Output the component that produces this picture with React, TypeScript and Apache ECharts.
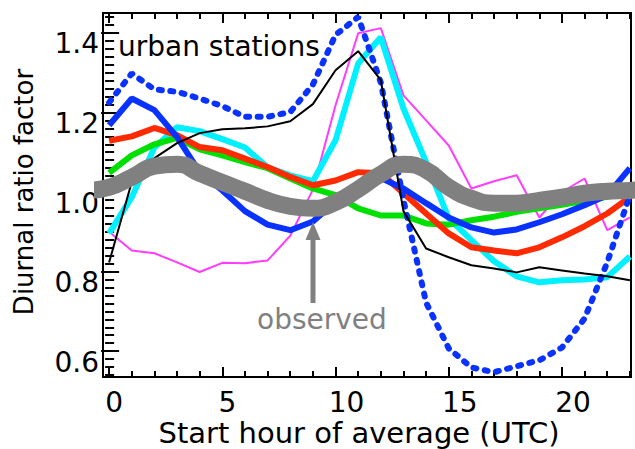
import React, { useEffect, useRef } from "react";
import * as echarts from "echarts";

// ---------- data (hours 0..23) ----------
const hours = [0, 1, 2, 3, 4, 5, 6, 7, 8, 9, 10, 11, 12, 13, 14, 15, 16, 17, 18, 19, 20, 21, 22, 23];

const blueDashed = [1.225, 1.298, 1.258, 1.252, 1.235, 1.216, 1.189, 1.189, 1.201, 1.27, 1.395, 1.44, 1.275, 0.98, 0.722, 0.607, 0.559, 0.547, 0.562, 0.577, 0.609, 0.682, 0.823, 0.992];
const blueSolid = [1.168, 1.235, 1.206, 1.138, 1.05, 1.004, 0.952, 0.918, 0.904, 0.926, 0.975, 1.012, 1.035, 1.009, 0.972, 0.936, 0.911, 0.898, 0.906, 0.924, 0.944, 0.967, 0.992, 1.06];
const redSeries = [1.129, 1.14, 1.161, 1.143, 1.113, 1.105, 1.084, 1.063, 1.038, 1.017, 1.029, 1.05, 1.047, 0.997, 0.946, 0.896, 0.861, 0.853, 0.846, 0.861, 0.886, 0.914, 0.946, 0.987];
const greenSeries = [1.048, 1.092, 1.12, 1.136, 1.107, 1.092, 1.075, 1.06, 1.034, 1.009, 0.992, 0.959, 0.941, 0.941, 0.921, 0.918, 0.929, 0.938, 0.95, 0.959, 0.968, 0.978, 0.988, 1.0];
const cyanSeries = [0.896, 0.987, 1.112, 1.163, 1.153, 1.133, 1.112, 1.062, 1.042, 1.027, 1.13, 1.323, 1.389, 1.21, 1.075, 0.934, 0.879, 0.826, 0.788, 0.773, 0.778, 0.78, 0.786, 0.838];
const magentaSeries = [0.9, 0.853, 0.846, 0.823, 0.799, 0.822, 0.821, 0.828, 0.89, 1.006, 1.218, 1.399, 1.412, 1.243, 1.18, 1.117, 1.009, 1.027, 1.042, 0.936, 1.0, 1.034, 0.904, 0.936];
const blackSeries = [0.823, 1.025, 1.085, 1.123, 1.148, 1.158, 1.16, 1.165, 1.178, 1.221, 1.306, 1.354, 1.281, 0.952, 0.858, 0.836, 0.816, 0.808, 0.798, 0.811, 0.803, 0.795, 0.788, 0.778];

// observed (diurnal, wrapped one hour on each side)
const observedHours = [-1, 0, 1, 2, 3, 4, 5, 6, 7, 8, 9, 10, 11, 12, 13, 14, 15, 16, 17, 18, 19, 20, 21, 22, 23, 24];
const observedSeries = [1.004, 1.012, 1.037, 1.065, 1.07, 1.047, 1.024, 1.002, 0.979, 0.964, 0.959, 0.974, 1.007, 1.045, 1.07, 1.055, 1.012, 0.984, 0.972, 0.972, 0.979, 0.987, 0.997, 1.002, 1.004, 1.012];

const xMajorTicks = [0, 5, 10, 15, 20];
const xMinorTicks = hours;
const yMajorTicks = [0.6, 0.8, 1.0, 1.2, 1.4];
const yMinorTicks = Array.from({ length: 46 }, (_, i) => +(0.54 + i * 0.02).toFixed(2));

const XMIN = -0.27;
const XMAX = 23.05;
const YMIN = 0.535;
const YMAX = 1.45;

const FONT = '"DejaVu Sans", "Liberation Sans", sans-serif';

const pairs = (xs: number[], ys: number[]) => xs.map((x, i) => [x, ys[i]]);

export default function App() {
  const ref = useRef<HTMLDivElement>(null);

  useEffect(() => {
    if (!ref.current) return;
    const chart = echarts.init(ref.current, null, { renderer: "svg" });

    const tickLine = { color: "#000", width: 2 };
    const xBase = {
      type: "value",
      min: XMIN,
      max: XMAX,
      axisLine: { show: false },
      splitLine: { show: false },
      minorTick: { show: false },
    };
    const yBase = {
      type: "value",
      min: YMIN,
      max: YMAX,
      axisLine: { show: false },
      splitLine: { show: false },
      minorTick: { show: false },
    };

    const xLabel = {
      show: true,
      customValues: xMajorTicks,
      margin: 14,
      formatter: (v: number) => (v < 10 ? `{a|${v}}` : `{b|${v}}`),
      rich: {
        a: { fontSize: 28, fontFamily: FONT, color: "#000", lineHeight: 22, padding: [0, 0, 0, 10] },
        b: { fontSize: 28, fontFamily: FONT, color: "#000", lineHeight: 22, padding: [0, 0, 0, 22] },
      },
    };

    const line = (name: string, xs: number[], ys: number[], color: string, width: number, extra: any = {}) => ({
      name,
      type: "line",
      data: pairs(xs, ys),
      symbol: "none",
      clip: true,
      lineStyle: { color, width, ...extra },
      xAxisIndex: 0,
      yAxisIndex: 0,
    });

    chart.setOption({
      animation: false,
      backgroundColor: "#fff",
      grid: {
        left: 103,
        right: 4,
        top: 13,
        bottom: 72,
        show: true,
        borderColor: "#000",
        borderWidth: 2,
        backgroundColor: "transparent",
      },
      xAxis: [
        {
          ...xBase,
          position: "bottom",
          axisTick: { show: true, inside: true, length: 10, customValues: xMajorTicks, lineStyle: tickLine },
          axisLabel: xLabel,
        },
        {
          ...xBase,
          position: "bottom",
          axisTick: { show: true, inside: true, length: 6, customValues: xMinorTicks, lineStyle: tickLine },
          axisLabel: { show: false },
        },
        {
          ...xBase,
          position: "top",
          axisTick: { show: true, inside: true, length: 10, customValues: xMajorTicks, lineStyle: tickLine },
          axisLabel: { show: false },
        },
        {
          ...xBase,
          position: "top",
          axisTick: { show: true, inside: true, length: 6, customValues: xMinorTicks, lineStyle: tickLine },
          axisLabel: { show: false },
        },
      ],
      yAxis: [
        {
          ...yBase,
          position: "left",
          axisTick: { show: true, inside: true, length: 10, customValues: yMajorTicks, lineStyle: tickLine },
          axisLabel: {
            show: true,
            customValues: yMajorTicks,
            margin: 4,
            formatter: (v: number) => `{a|${v.toFixed(1)}}`,
            rich: {
              a: { fontSize: 28, fontFamily: FONT, color: "#000", lineHeight: 24, padding: [22, 0, 0, 0] },
            },
          },
        },
        {
          ...yBase,
          position: "left",
          axisTick: { show: true, inside: true, length: 5, customValues: yMinorTicks, lineStyle: tickLine },
          axisLabel: { show: false },
        },
        {
          ...yBase,
          position: "right",
          axisTick: { show: true, inside: true, length: 8, customValues: yMajorTicks, lineStyle: tickLine },
          axisLabel: { show: false },
        },
        {
          ...yBase,
          position: "right",
          axisTick: { show: true, inside: true, length: 4, customValues: yMinorTicks, lineStyle: tickLine },
          axisLabel: { show: false },
        },
      ],
      series: [
        line("magenta", hours, magentaSeries, "#ff3cff", 2),
        line("cyan", hours, cyanSeries, "#00f0ff", 6),
        line("green", hours, greenSeries, "#00e000", 6),
        line("red", hours, redSeries, "#ff2a00", 6),
        line("blue", hours, blueSolid, "#0a32ff", 6),
        line("blue dashed", hours, blueDashed, "#0a32ff", 6, { type: [3, 8.5], cap: "round" }),
        line("black", hours, blackSeries, "#000000", 2),
        { ...line("observed", observedHours, observedSeries, "#808080", 17), smooth: 0.5 },
      ],
      graphic: [
        {
          type: "text",
          x: 118,
          y: 46,
          z: 100,
          style: { text: "urban stations", font: `28px ${FONT}`, fill: "#000", align: "left", verticalAlign: "middle" },
        },
        {
          type: "text",
          x: 257,
          y: 319,
          z: 100,
          style: { text: "observed", font: `28px ${FONT}`, fill: "#808080", align: "left", verticalAlign: "middle" },
        },
        {
          type: "text",
          x: 359,
          y: 433,
          z: 100,
          style: { text: "Start hour of average (UTC)", font: `29px ${FONT}`, fill: "#000", align: "center", verticalAlign: "middle", lineHeight: 26 },
        },
        {
          type: "text",
          x: 24,
          y: 192,
          rotation: Math.PI / 2,
          z: 100,
          style: { text: "Diurnal ratio factor", font: `26px ${FONT}`, fill: "#000", align: "center", verticalAlign: "middle" },
        },
        {
          type: "rect",
          z: 100,
          shape: { x: 310.5, y: 238, width: 5, height: 65 },
          style: { fill: "#808080" },
        },
        {
          type: "polygon",
          z: 100,
          shape: { points: [[305.5, 240], [320.5, 240], [313, 222]] },
          style: { fill: "#808080" },
        },
      ],
    });

    return () => chart.dispose();
  }, []);

  return (
    <div
      ref={ref}
      style={{ position: "absolute", left: 0, top: 0, width: 635, height: 449, background: "#fff" }}
    />
  );
}
